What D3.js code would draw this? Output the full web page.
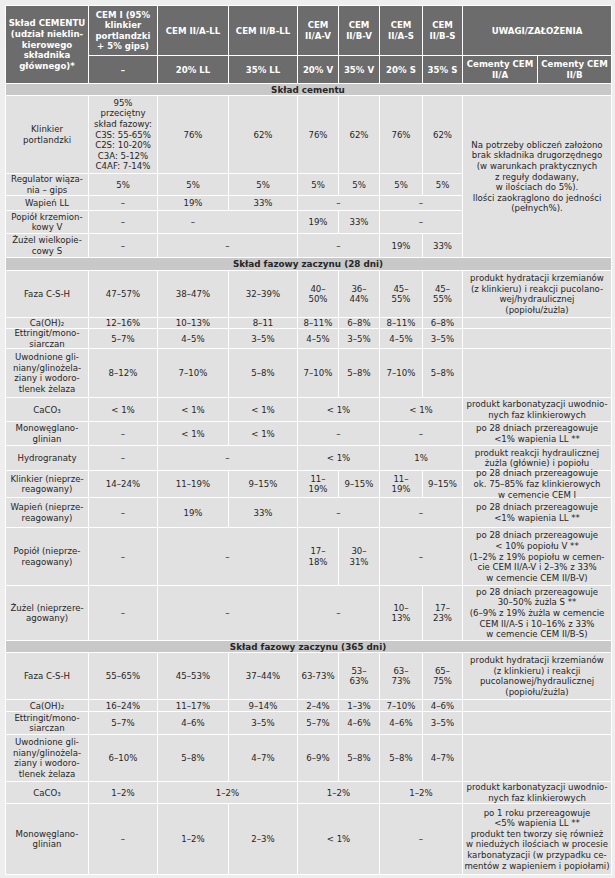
<!DOCTYPE html>
<html><head><meta charset="utf-8">
<script src="https://cdn.jsdelivr.net/npm/d3@7"></script>
<style>
html,body{margin:0;padding:0;background:#eeeeee;}
svg text{font-family:"DejaVu Sans",Verdana,sans-serif;}
</style></head><body>
<svg id="chart" width="615" height="878"></svg>
<script>
// ---------- DATA ----------
const firstHeader = "Skład CEMENTU\n(udział nieklin-\nkierowego\nskładnika\ngłównego)*";
const cementTypes = ["CEM I (95%\nklinkier\nportlandzki\n+ 5% gips)", "CEM II/A-LL", "CEM II/B-LL", "CEM\nII/A-V", "CEM\nII/B-V", "CEM\nII/A-S", "CEM\nII/B-S"];
const additions = ["–", "20% LL", "35% LL", "20% V", "35% V", "20% S", "35% S"];
const notesHeader = "UWAGI/ZAŁOŻENIA";
const notesSubheaders = ["Cementy CEM\nII/A", "Cementy CEM\nII/B"];
const sectionTitles = ["Skład cementu", "Skład fazowy zaczynu (28 dni)", "Skład fazowy zaczynu (365 dni)"];

// cell = "text" or [text, colspan] or [text, colspan, "first"] (text centred in first spanned column)
const componentLabels = ["Klinkier\nportlandzki", "Regulator wiąza-\nnia – gips", "Wapień LL", "Popiół krzemion-\nkowy V", "Żużel wielkopie-\ncowy S"];
const componentValues = [
  ["95%\nprzeciętny\nskład fazowy:\nC3S: 55-65%\nC2S: 10-20%\nC3A: 5-12%\nC4AF: 7-14%", "76%", "62%", "76%", "62%", "76%", "62%"],
  ["5%", "5%", "5%", "5%", "5%", "5%", "5%"],
  ["–", "19%", "33%", ["–", 2], ["–", 2]],
  ["–", ["–", 2, "first"], "19%", "33%", ["–", 2]],
  ["–", ["–", 2], ["–", 2], "19%", "33%"]
];
const componentNote = "Na potrzeby obliczeń założono\nbrak składnika drugorzędnego\n(w warunkach praktycznych\nz reguły dodawany,\nw ilościach do 5%).\nIlości zaokrąglono do jedności\n(pełnych%).";

const phaseLabels28 = ["Faza C-S-H", "Ca(OH)₂", "Ettringit/mono-\nsiarczan", "Uwodnione gli-\nniany/glinożela-\nziany i wodoro-\ntlenek żelaza", "CaCO₃", "Monowęglano-\nglinian", "Hydrogranaty", "Klinkier (nieprze-\nreagowany)", "Wapień (nieprze-\nreagowany)", "Popiół (nieprze-\nreagowany)", "Żużel (nieprzere-\nagowany)"];
const phaseValues28 = [
  ["47–57%", "38–47%", "32–39%", "40–\n50%", "36–\n44%", "45–\n55%", "45–\n55%"],
  ["12–16%", "10–13%", "8–11", "8–11%", "6–8%", "8–11%", "6–8%"],
  ["5–7%", "4–5%", "3–5%", "4–5%", "3–5%", "4–5%", "3–5%"],
  ["8–12%", "7–10%", "5–8%", "7–10%", "5–8%", "7–10%", "5–8%"],
  ["< 1%", "< 1%", "< 1%", ["< 1%", 2], ["< 1%", 2]],
  ["–", "< 1%", "< 1%", ["–", 2], ["–", 2]],
  ["–", ["–", 2], ["< 1%", 2], ["1%", 2]],
  ["14–24%", "11–19%", "9–15%", "11–\n19%", "9–15%", "11–\n19%", "9–15%"],
  ["–", "19%", "33%", ["–", 2], ["–", 2]],
  ["–", ["–", 2], "17–\n18%", "30–\n31%", ["–", 2]],
  ["–", ["–", 2], ["–", 2], "10–\n13%", "17–\n23%"]
];
const phaseNotes28 = [
  "produkt hydratacji krzemianów\n(z klinkieru) i reakcji pucolano-\nwej/hydraulicznej\n(popiołu/żużla)",
  "", "", "",
  "produkt karbonatyzacji uwodnio-\nnych faz klinkierowych",
  "po 28 dniach przereagowuje\n<1% wapienia LL **",
  "produkt reakcji hydraulicznej\nżużla (głównie) i popiołu",
  "po 28 dniach przereagowuje\nok. 75–85% faz klinkierowych\nw cemencie CEM I",
  "po 28 dniach przereagowuje\n<1% wapienia LL **",
  "po 28 dniach przereagowuje\n< 10% popiołu V **\n(1–2% z 19% popiołu w cemen-\ncie CEM II/A-V i 2–3% z 33%\nw cemencie CEM II/B-V)",
  "po 28 dniach przereagowuje\n30–50% żużla S **\n(6–9% z 19% żużla w cemencie\nCEM II/A-S i 10–16% z 33%\nw cemencie CEM II/B-S)"
];

const phaseLabels365 = ["Faza C-S-H", "Ca(OH)₂", "Ettringit/mono-\nsiarczan", "Uwodnione gli-\nniany/glinożela-\nziany i wodoro-\ntlenek żelaza", "CaCO₃", "Monowęglano-\nglinian"];
const phaseValues365 = [
  ["55–65%", "45–53%", "37–44%", "63-73%", "53–\n63%", "63–\n73%", "65–\n75%"],
  ["16–24%", "11–17%", "9–14%", "2–4%", "1–3%", "7–10%", "4–6%"],
  ["5–7%", "4–6%", "3–5%", "5–7%", "4–6%", "4–6%", "3–5%"],
  ["6–10%", "5–8%", "4–7%", "6–9%", "5–8%", "5–8%", "4–7%"],
  ["1–2%", ["1–2%", 2], ["1–2%", 2], ["1–2%", 2]],
  ["–", "1–2%", "2–3%", ["< 1%", 2], ["–", 2]]
];
const phaseNotes365 = [
  "produkt hydratacji krzemianów\n(z klinkieru) i reakcji\npucolanowej/hydraulicznej\n(popiołu/żużla)",
  "", "", "",
  "produkt karbonatyzacji uwodnio-\nnych faz klinkierowych",
  "po 1 roku przereagowuje\n<5% wapienia LL **\nprodukt ten tworzy się również\nw niedużych ilościach w procesie\nkarbonatyzacji (w przypadku ce-\nmentów z wapieniem i popiołami)"
];

// ---------- LAYOUT ----------
const colEdges = [5, 88, 157, 228, 297, 338, 379, 422, 462, 537, 611];
const rowEdges = [5, 55, 83, 95, 173, 195, 210, 233, 257, 270, 317, 328, 348, 397, 421, 445, 470, 497, 527, 585, 640, 652, 699, 711, 734, 781, 803, 874];
const x = d3.scaleLinear().domain(d3.range(colEdges.length)).range(colEdges);
const y = d3.scaleLinear().domain(d3.range(rowEdges.length)).range(rowEdges);

const fills = {head: "#6c6c6c", sec: "#c8c8c8", body: "#e1e1e1", note: "#e1e1e1"};
const fontSize = 8.6, lineH = 10.6;

// ---------- BUILD CELLS ----------
const cells = [];
cells.push({c0: 0, c1: 1, r0: 0, r1: 2, text: firstHeader, kind: "head"});
cementTypes.forEach((t, i) => {
  cells.push({c0: i + 1, c1: i + 2, r0: 0, r1: 1, text: t, kind: "head"});
  cells.push({c0: i + 1, c1: i + 2, r0: 1, r1: 2, text: additions[i], kind: "head"});
});
cells.push({c0: 8, c1: 10, r0: 0, r1: 1, text: notesHeader, kind: "head"});
notesSubheaders.forEach((t, i) => cells.push({c0: 8 + i, c1: 9 + i, r0: 1, r1: 2, text: t, kind: "head"}));

let r = 2;
function addSection(title, labels, values, notes) {
  cells.push({c0: 0, c1: 10, r0: r, r1: r + 1, text: title, kind: "sec"});
  r++;
  labels.forEach((lab, i) => {
    cells.push({c0: 0, c1: 1, r0: r, r1: r + 1, text: lab, kind: "body"});
    let c = 1;
    values[i].forEach(v => {
      const [t, s, al] = Array.isArray(v) ? v : [v, 1];
      cells.push({c0: c, c1: c + s, r0: r, r1: r + 1, text: t, kind: "body", align: al});
      c += s;
    });
    if (typeof notes === "string") {
      if (i === 0) cells.push({c0: 8, c1: 10, r0: r, r1: r + labels.length, text: notes, kind: "note"});
    } else {
      cells.push({c0: 8, c1: 10, r0: r, r1: r + 1, text: notes[i], kind: "note"});
    }
    r++;
  });
}
addSection(sectionTitles[0], componentLabels, componentValues, componentNote);
addSection(sectionTitles[1], phaseLabels28, phaseValues28, phaseNotes28);
addSection(sectionTitles[2], phaseLabels365, phaseValues365, phaseNotes365);

// ---------- DRAW ----------
const svg = d3.select("#chart");
svg.append("rect").attr("width", 615).attr("height", 878).attr("fill", "#eeeeee");

svg.append("g").selectAll("rect").data(cells).join("rect")
  .attr("x", d => x(d.c0) + 0.5)
  .attr("y", d => y(d.r0) + 0.5)
  .attr("width", d => x(d.c1) - x(d.c0))
  .attr("height", d => y(d.r1) - y(d.r0))
  .attr("fill", d => fills[d.kind])
  .attr("stroke", "#ffffff")
  .attr("stroke-width", 1);

const tg = svg.append("g").selectAll("text").data(cells.filter(d => d.text)).join("text")
  .attr("text-anchor", "middle")
  .attr("font-size", d => d.kind === "sec" ? 8.8 : fontSize)
  .attr("font-weight", d => (d.kind === "head" || d.kind === "sec") ? "bold" : "normal")
  .attr("fill", d => d.kind === "head" ? "#ffffff" : "#262626");

tg.each(function(d) {
  const lines = d.text.split("\n");
  let cx;
  if (d.kind === "sec") cx = (x(0) + x(10)) / 2;
  else if (d.align === "first") cx = (x(d.c0) + x(d.c0 + 1)) / 2 + 0.5;
  else cx = (x(d.c0) + x(d.c1)) / 2 + 0.5;
  const cy = (y(d.r0) + y(d.r1)) / 2 + 0.5;
  d3.select(this).selectAll("tspan").data(lines).join("tspan")
    .attr("x", cx)
    .attr("y", (l, i) => cy + (i - (lines.length - 1) / 2) * lineH + fontSize * 0.36)
    .text(l => l);
});
</script>
</body></html>
